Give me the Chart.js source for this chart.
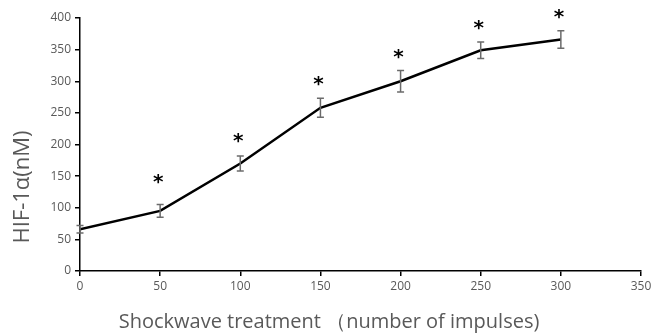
<!DOCTYPE html>
<html>
<head>
<meta charset="utf-8">
<script src="https://cdn.jsdelivr.net/npm/chart.js@4"></script>
<style>
  html, body { margin: 0; padding: 0; background: #fff; }
  #wrap { width: 651px; height: 335px; }
</style>
</head>
<body>
<div id="wrap"><canvas id="chart" width="651" height="335"></canvas></div>
<script>
// impulses vs HIF-1a concentration
const impulses = [0, 50, 100, 150, 200, 250, 300];
const hifMean = [66, 95, 170, 258, 300, 349, 366];
const hifErr = [6, 10, 12, 15, 17, 13, 14];
const starLevel = [null, 145, 210, 300, 344, 390, 406];
const xTicks = [0, 50, 100, 150, 200, 250, 300, 350];
const yTicks = [0, 50, 100, 150, 200, 250, 300, 350, 400];
const xTitle = 'Shockwave treatment （number of impulses)';
const yTitle = 'HIF-1α(nM)';

const GREY = '#595959';

// error bars + significance stars
const errorBars = {
  id: 'errorBars',
  afterDatasetsDraw(chart) {
    const { ctx, scales: { x, y } } = chart;
    ctx.save();
    ctx.strokeStyle = '#6b6b6b';
    ctx.lineWidth = 1.5;
    impulses.forEach((v, i) => {
      const px = x.getPixelForValue(v);
      const top = y.getPixelForValue(hifMean[i] + hifErr[i]);
      const bot = y.getPixelForValue(hifMean[i] - hifErr[i]);
      ctx.beginPath();
      ctx.moveTo(px, top); ctx.lineTo(px, bot);
      ctx.moveTo(px - 3.5, top); ctx.lineTo(px + 3.5, top);
      ctx.moveTo(px - 3.5, bot); ctx.lineTo(px + 3.5, bot);
      ctx.stroke();
    });
    ctx.fillStyle = '#000';
    ctx.font = 'bold 20px "DejaVu Sans"';
    ctx.textAlign = 'center';
    ctx.textBaseline = 'middle';
    starLevel.forEach((s, i) => {
      if (s == null) return;
      ctx.fillText('*', x.getPixelForValue(impulses[i]) - 2, y.getPixelForValue(s) + 4);
    });
    ctx.restore();
  }
};

// axis titles sit off-centre in the original, so draw them by hand
const axisTitles = {
  id: 'axisTitles',
  afterDraw(chart) {
    const { ctx } = chart;
    ctx.save();
    ctx.fillStyle = GREY;
    ctx.textAlign = 'center';
    ctx.textBaseline = 'middle';
    ctx.font = '20px "Open Sans"';
    ctx.fillText(xTitle, 329, 322);
    ctx.translate(23, 187);
    ctx.rotate(-Math.PI / 2);
    ctx.font = '22px "Open Sans"';
    ctx.fillText(yTitle, 0, 0);
    ctx.restore();
  }
};

new Chart(document.getElementById('chart'), {
  type: 'line',
  data: {
    datasets: [{
      data: impulses.map((v, i) => ({ x: v, y: hifMean[i] })),
      borderColor: '#000',
      borderWidth: 2.5,
      pointRadius: 0,
      tension: 0,
      fill: false,
    }],
  },
  options: {
    responsive: false,
    animation: false,
    layout: { padding: { top: 18, right: 0, left: 0, bottom: 0 } },
    plugins: { legend: { display: false }, tooltip: { enabled: false } },
    scales: {
      x: {
        type: 'linear',
        min: 0, max: 350,
        afterBuildTicks: s => { s.ticks = xTicks.map(v => ({ value: v })); },
        afterFit: s => { s.height = 64; s.paddingRight = 10; s.paddingLeft = 0; },
        border: { color: '#000', width: 1.5 },
        grid: { drawOnChartArea: false, tickLength: 5, tickColor: '#000', lineWidth: 1.5 },
        ticks: { color: GREY, font: { family: 'Open Sans', size: 12 }, padding: 3, maxRotation: 0 },
      },
      y: {
        min: 0, max: 400,
        afterBuildTicks: s => { s.ticks = yTicks.map(v => ({ value: v })); },
        afterFit: s => { s.width = 80; },
        border: { color: '#000', width: 1.5 },
        grid: { drawOnChartArea: false, tickLength: 5, tickColor: '#000', lineWidth: 1.5 },
        ticks: { color: GREY, font: { family: 'Open Sans', size: 12 }, padding: 4 },
      },
    },
  },
  plugins: [errorBars, axisTitles],
});
</script>
</body>
</html>
